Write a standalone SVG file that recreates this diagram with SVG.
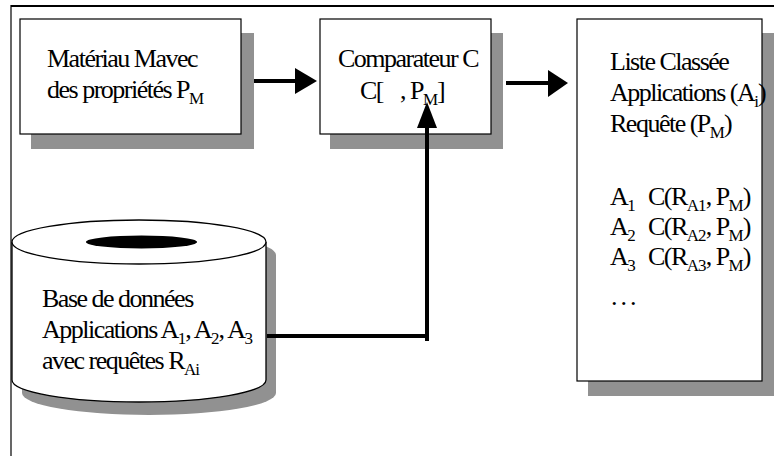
<svg xmlns="http://www.w3.org/2000/svg" width="774" height="456" viewBox="0 0 774 456">
<style>
text{font-family:"Liberation Serif","Times New Roman","DejaVu Serif",serif;font-size:26px;letter-spacing:-1.5px;fill:#000}
.sub{font-size:17px;letter-spacing:-1px}
.box{fill:#fff;stroke:#000;stroke-width:1.2}
.shadow{fill:#919191}
.conn{fill:none;stroke:#000;stroke-width:4}
.head{fill:#000}
</style>
<rect width="774" height="456" fill="#fff"/>
<g id="frame">
<line x1="11" y1="6" x2="774" y2="6" stroke="#000" stroke-width="2.2"/>
<line x1="11" y1="5" x2="11" y2="456" stroke="#000" stroke-width="1.2"/>
</g>
<g id="materiau">
<rect class="shadow" x="31" y="33" width="223" height="116"/>
<rect class="box" x="20" y="19" width="221" height="115"/>
<text x="47" y="67">Matériau Mavec</text>
<text x="47" y="98">des propriétés P<tspan class="sub" dy="6">M</tspan></text>
</g>
<g id="comparateur">
<rect class="shadow" x="330" y="33" width="173" height="116"/>
<rect class="box" x="320" y="19" width="171" height="115"/>
<text x="338" y="67">Comparateur C</text>
<text x="360" y="99">C[</text>
<text x="400" y="99">, P<tspan class="sub" dy="6">M</tspan><tspan dy="-6">]</tspan></text>
</g>
<g id="liste">
<rect class="shadow" x="588" y="33" width="186" height="363"/>
<rect class="box" x="577" y="19" width="185" height="362"/>
<text x="610" y="70">Liste Classée</text>
<text x="610" y="101">Applications (A<tspan class="sub" dy="6">i</tspan><tspan dy="-6">)</tspan></text>
<text x="610" y="132">Requête (P<tspan class="sub" dy="6">M</tspan><tspan dy="-6">)</tspan></text>
<text x="610" y="205">A<tspan class="sub" dy="6">1</tspan></text>
<text x="648" y="205">C(R<tspan class="sub" dy="6">A1</tspan><tspan dy="-6">, P</tspan><tspan class="sub" dy="6">M</tspan><tspan dy="-6">)</tspan></text>
<text x="610" y="235">A<tspan class="sub" dy="6">2</tspan></text>
<text x="648" y="235">C(R<tspan class="sub" dy="6">A2</tspan><tspan dy="-6">, P</tspan><tspan class="sub" dy="6">M</tspan><tspan dy="-6">)</tspan></text>
<text x="610" y="265">A<tspan class="sub" dy="6">3</tspan></text>
<text x="648" y="265">C(R<tspan class="sub" dy="6">A3</tspan><tspan dy="-6">, P</tspan><tspan class="sub" dy="6">M</tspan><tspan dy="-6">)</tspan></text>
<text x="611" y="305" style="letter-spacing:3px">...</text>
</g>
<g id="base">
<path class="shadow" d="M22,255 A127,22 0 0 1 276,255 L276,393 A127,22 0 0 1 22,393 Z"/>
<path d="M12,242 L12,380 A127,22 0 0 0 266,380 L266,242" fill="#fff" stroke="#000" stroke-width="1.3"/>
<ellipse cx="139" cy="242" rx="127" ry="22" fill="#fff" stroke="#000" stroke-width="1.3"/>
<ellipse cx="141.5" cy="242" rx="55.5" ry="6.5" fill="#000"/>
<text x="42" y="307">Base de données</text>
<text x="42" y="338">Applications A<tspan class="sub" dy="6">1</tspan><tspan dy="-6">, A</tspan><tspan class="sub" dy="6">2</tspan><tspan dy="-6">, A</tspan><tspan class="sub" dy="6">3</tspan></text>
<text x="42" y="369">avec requêtes R<tspan class="sub" dy="6">Ai</tspan></text>
</g>
<g id="connectors">
<line class="conn" x1="254" y1="81" x2="297" y2="81"/>
<polygon class="head" points="295,68 317,81 295,94"/>
<line class="conn" x1="506" y1="83" x2="550" y2="83"/>
<polygon class="head" points="548,70 568,83 548,97"/>
<polyline class="conn" points="267,336 427,336 427,126" stroke-linejoin="miter"/>
<line class="conn" x1="427" y1="336" x2="427" y2="341"/>
<polygon class="head" points="417,128 427,102 437,128"/>
</g>
</svg>
